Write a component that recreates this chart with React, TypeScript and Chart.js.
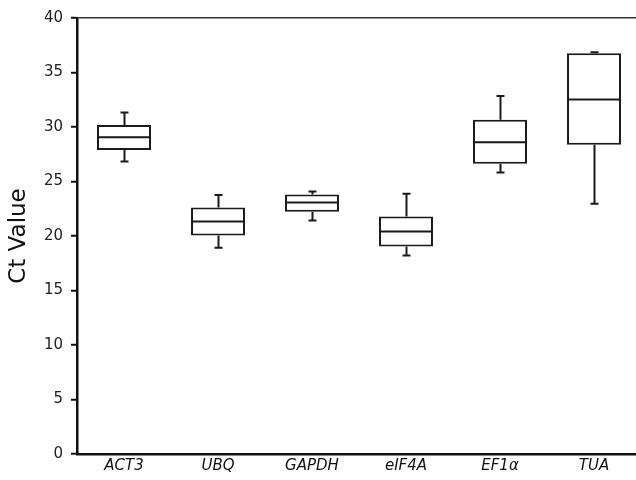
import React, { useEffect, useRef } from "react";
import { Chart, registerables } from "chart.js";

Chart.register(...registerables);

const categories = ["ACT3", "UBQ", "GAPDH", "eIF4A", "EF1α", "TUA"];
const whiskerLow = [26.84, 18.92, 21.42, 18.21, 25.83, 22.96];
const q1Values = [27.89, 20.05, 22.22, 19.04, 26.63, 28.37];
const medians = [29.05, 21.33, 23.08, 20.41, 28.59, 32.53];
const q3Values = [30.18, 22.62, 23.81, 21.79, 30.67, 36.76];
const whiskerHigh = [31.34, 23.76, 24.09, 23.88, 32.85, 36.85];
const yTicks = [0, 5, 10, 15, 20, 25, 30, 35, 40];
const yTitle = "Ct Value";

const FONT = "'DejaVu Sans', sans-serif";
const INK = "#1a1a1a";

const boxPlotPlugin = {
  id: "boxWhiskers",
  afterDatasetsDraw(chart: any) {
    const meta = chart.getDatasetMeta(0);
    const y = chart.scales.y;
    const ctx = chart.ctx;
    ctx.save();
    ctx.strokeStyle = INK;
    ctx.lineWidth = 2;
    meta.data.forEach((bar: any, i: number) => {
      const props = bar.getProps(["x", "width"], true);
      const cx = Math.round(props.x) + 0.5;
      const half = props.width / 2;
      const capHalf = 4;
      const yMed = y.getPixelForValue(medians[i]);
      const yQ1 = y.getPixelForValue(q1Values[i]);
      const yQ3 = y.getPixelForValue(q3Values[i]);
      const yLo = y.getPixelForValue(whiskerLow[i]);
      const yHi = y.getPixelForValue(whiskerHigh[i]);
      ctx.beginPath();
      // median
      ctx.moveTo(props.x - half, yMed);
      ctx.lineTo(props.x + half, yMed);
      // upper whisker
      ctx.moveTo(cx, yQ3);
      ctx.lineTo(cx, yHi);
      ctx.moveTo(cx - capHalf, yHi);
      ctx.lineTo(cx + capHalf, yHi);
      // lower whisker
      ctx.moveTo(cx, yQ1);
      ctx.lineTo(cx, yLo);
      ctx.moveTo(cx - capHalf, yLo);
      ctx.lineTo(cx + capHalf, yLo);
      ctx.stroke();
    });
    ctx.restore();
  },
};

export default function App() {
  const canvasRef = useRef<HTMLCanvasElement | null>(null);

  useEffect(() => {
    document.body.style.margin = "0";
    document.body.style.overflow = "hidden";
    const canvas = canvasRef.current;
    if (!canvas) return;
    const chart = new Chart(canvas, {
      type: "bar",
      data: {
        labels: categories,
        datasets: [
          {
            data: categories.map((_, i) => [q1Values[i], q3Values[i]]) as any,
            backgroundColor: "#ffffff",
            borderColor: INK,
            borderWidth: 2,
            borderSkipped: false,
            barPercentage: 0.574,
            categoryPercentage: 1,
          },
        ],
      },
      options: {
        responsive: false,
        animation: false,
        devicePixelRatio: 1,
        layout: { padding: { left: 0, top: 18, right: 19, bottom: 0 } },
        plugins: {
          legend: { display: false },
          tooltip: { enabled: false },
        },
        scales: {
          x: {
            grid: { display: false, drawTicks: false },
            border: { display: true, color: "#111", width: 2.5 },
            ticks: {
              color: "#111",
              padding: 3,
              font: { family: FONT, size: 15, style: "italic" },
            },
            afterFit: (s: any) => {
              s.height = 26;
            },
          },
          y: {
            min: 0,
            max: 40,
            afterBuildTicks: (s: any) => {
              s.ticks = yTicks.map((v) => ({ value: v }));
            },
            grid: {
              drawOnChartArea: true,
              drawTicks: true,
              tickLength: 6,
              tickWidth: 2,
              tickColor: "#111",
              lineWidth: 1.5,
              color: (c: any) =>
                c.tick && c.tick.value === 40 ? "#333" : "rgba(0,0,0,0)",
            },
            border: { display: true, color: "#111", width: 2.5 },
            ticks: {
              color: "#222",
              padding: 8,
              font: { family: FONT, size: 15 },
            },
            title: {
              display: true,
              text: yTitle,
              color: "#111",
              padding: { top: 5, bottom: 0 },
              font: { family: FONT, size: 23 },
            },
            afterFit: (s: any) => {
              s.width = 77;
            },
          },
        },
      },
      plugins: [boxPlotPlugin],
    });
    return () => chart.destroy();
  }, []);

  return (
    <div
      style={{
        position: "absolute",
        left: 0,
        top: 0,
        width: 636,
        height: 480,
        overflow: "hidden",
        background: "#fff",
      }}
    >
      <canvas
        ref={canvasRef}
        width={660}
        height={480}
        style={{ display: "block", width: 660, height: 480 }}
      />
    </div>
  );
}
